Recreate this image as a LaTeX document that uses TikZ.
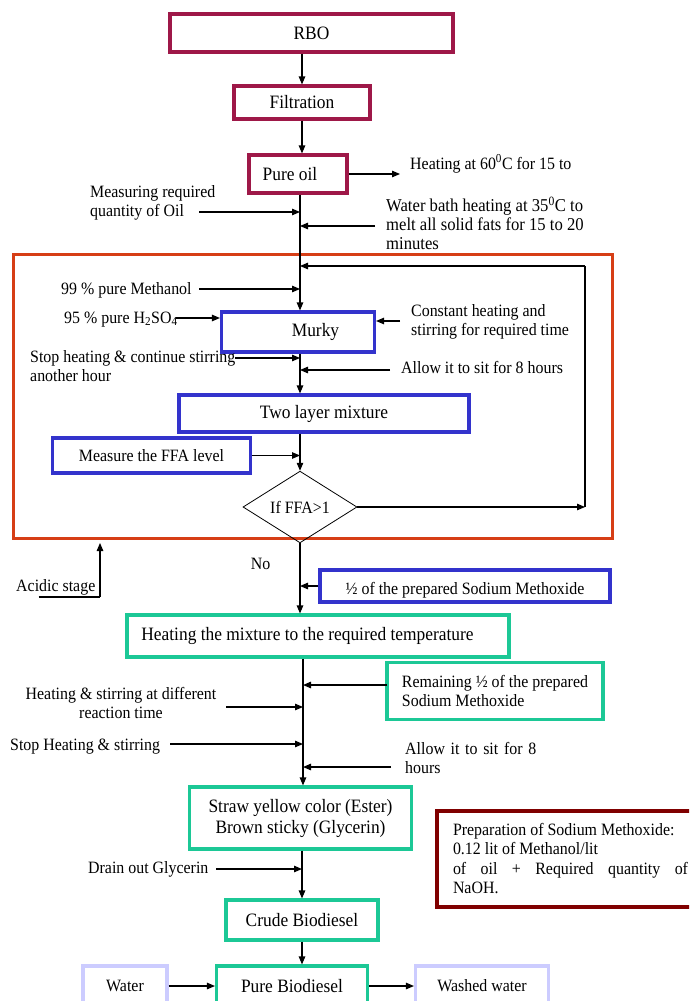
\documentclass[tikz,border=0pt]{standalone}
\usepackage{fontspec}
\setmainfont{Liberation Serif}[FakeStretch=0.92]
\usetikzlibrary{arrows.meta,shapes.geometric}
\definecolor{maroonA}{RGB}{158,24,72}
\definecolor{orangeR}{RGB}{214,62,22}
\definecolor{blueB}{RGB}{51,51,204}
\definecolor{greenT}{RGB}{28,200,150}
\definecolor{lavenderL}{RGB}{204,204,255}
\definecolor{darkredP}{RGB}{128,0,0}
\begin{document}
\begin{tikzpicture}[x=1pt,y=-1pt,
  font=\fontsize{17.3}{19.5}\selectfont,
  bigtext/.style={font=\fontsize{18.9}{21}\selectfont},
  box/.style={draw,line width=3.1pt,inner sep=0pt,align=center},
  mbox/.style={box,draw=maroonA,bigtext},
  bbox/.style={box,draw=blueB},
  gbox/.style={box,draw=greenT},
  lbox/.style={box,draw=lavenderL},
  txt/.style={inner sep=0pt,anchor=base west},
  mtxt/.style={inner sep=0pt,anchor=north west,align=left},
  arr/.style={line width=1.1pt,-{Triangle[length=8pt,width=6.5pt]}},
  ln/.style={line width=1.1pt},
]
\clip (0,0) rectangle (689,1001);
\fill[white] (0,0) rectangle (689,1001);
% spine positions
\coordinate (s1) at (300,0);
\coordinate (s3) at (303,0);

% top part
\node[mbox,minimum width=283pt,minimum height=38pt] (rbo) at (311.5,33) {RBO};
\node[mbox,minimum width=136pt,minimum height=33pt] (filt) at (302,102.5) {Filtration};
\node[mbox,minimum width=98pt,minimum height=38pt] (pure) at (298,174) {\hspace*{-16pt}Pure oil};
\draw[arr] (filt.north |- rbo.south) -- (filt.north);
\draw[arr] (filt.south) -- (filt.south |- pure.north);

\node[txt] (heat60) at (410,169) {Heating at 60\textsuperscript{0}C for 15 to};
\coordinate (h60) at (400,174);
\draw[arr] (pure.east) -- (h60);

\node[mtxt] (meas) at (90,185) {Measuring required\\quantity of Oil};
\coordinate (measA) at (199,212);
\draw[arr] (measA) -- (measA -| s1);

\node[mtxt,font=\fontsize{18.1}{19}\selectfont] (wb) at (386,197) {Water bath heating at 35\textsuperscript{0}C to\\melt all solid fats for 15 to 20\\minutes};
\coordinate (wbA) at (375,226);
\draw[arr] (wbA) -- (wbA -| s1);

% acidic stage frame
\node[draw=orangeR,line width=3pt,minimum width=599pt,minimum height=284pt,inner sep=0pt] (acid) at (312.5,396) {};

\node[bbox,bigtext,minimum width=153pt,minimum height=40pt] (murky) at (298,332) {\hspace*{35pt}Murky};
\draw[arr] (pure.south -| s1) -- (murky.north -| s1);

\node[txt] (meth) at (61,294) {99 \% pure Methanol};
\coordinate (methA) at (199,289);
\draw[arr] (methA) -- (methA -| s1);

\node[txt] (h2so4) at (64,323) {95 \% pure H\textsubscript{2}SO\textsubscript{4}};
\coordinate (h2A) at (176,318);
\draw[arr] (h2A) -- (h2A -| murky.west);

\node[mtxt] (const) at (411,304) {Constant heating and\\stirring for required time};
\coordinate (constA) at (400,321);
\draw[arr] (constA) -- (constA -| murky.east);

\node[mtxt] (stop1) at (30,350) {Stop heating \& continue stirring\\another hour};
\coordinate (stopA) at (235,358);
\draw[arr] (stopA) -- (stopA -| s1);

\node[txt] (allow1) at (401,373) {Allow it to sit for 8 hours};
\coordinate (allowA) at (390,370);
\draw[arr] (allowA) -- (allowA -| s1);

\node[bbox,bigtext,minimum width=290pt,minimum height=37pt] (two) at (324,413.5) {Two layer mixture};
\draw[arr] (murky.south -| s1) -- (two.north -| s1);

\node[draw,shape=diamond,line width=0.8pt,minimum width=114pt,minimum height=62pt,inner sep=0pt] (ffa) at (300,507) {If FFA>1};
\draw[arr] (two.south -| s1) -- (ffa.north);

\node[bbox,minimum width=198pt,minimum height=35pt] (meas2) at (151.5,455.5) {Measure the FFA level};
\draw[arr] (meas2.east) -- (meas2.east -| s1);

% feedback loop
\coordinate (fbA) at (585,266);
\coordinate (fbB) at (585,507);
\draw[arr] (ffa.east) -- (fbB);
\draw[ln] (fbB) -- (fbA);
\draw[arr] (fbA) -- (fbA -| s1);

% acidic stage label
\node[txt] (acidtxt) at (16,591) {Acidic stage};
\coordinate (acA) at (38.5,597);
\coordinate (acB) at (100,597);
\coordinate (acC) at (100,543);
\draw[ln] (acA) -- (acB);
\draw[arr] (acB) -- (acC);

% basic stage
\node[txt,anchor=base] (no) at (260.5,569) {No};
\node[bbox,minimum width=290pt,minimum height=32pt,text height=20pt,text depth=4pt] (half) at (465,586) {½ of the prepared Sodium Methoxide};
\node[gbox,bigtext,minimum width=382pt,minimum height=42pt] (heat) at (318,636) {\hspace*{-21pt}Heating the mixture to the required temperature};
\draw[arr] (ffa.south) -- (ffa.south |- heat.north);
\draw[arr] (half.west) -- (half.west -| ffa.south);

\node[gbox,bigtext,minimum width=222pt,minimum height=62pt] (straw) at (300.5,818) {Straw yellow color (Ester)\\Brown sticky (Glycerin)};
\draw[arr] (heat.south -| s3) -- (straw.north -| s3);

\node[gbox,minimum width=216pt,minimum height=57pt,align=left] (rem) at (495,691) {Remaining ½ of the prepared\\Sodium Methoxide};
\coordinate (remA) at (387,685);
\draw[arr] (remA) -- (remA -| s3);

\node[inner sep=0pt,anchor=north,align=center] (hs) at (121,687) {Heating \& stirring at different\\reaction time};
\coordinate (hsA) at (226,707);
\draw[arr] (hsA) -- (hsA -| s3);

\node[txt] (stop2) at (10,750) {Stop Heating \& stirring};
\coordinate (stop2A) at (170,744);
\draw[arr] (stop2A) -- (stop2A -| s3);

\node[mtxt] (allow2) at (405,742) {\makebox[131pt][s]{Allow it to sit for 8}\\hours};
\coordinate (allow2A) at (391,767);
\draw[arr] (allow2A) -- (allow2A -| s3);

\node[gbox,bigtext,minimum width=152pt,minimum height=40pt] (crude) at (302,920) {Crude Biodiesel};
\draw[arr] (crude.north |- straw.south) -- (crude.north);

\node[txt] (drain) at (88,873) {Drain out Glycerin};
\coordinate (drainA) at (216,869);
\draw[arr] (drainA) -- (drainA -| crude.north);

\node[gbox,bigtext,minimum width=151pt,minimum height=40pt] (pbio) at (292,986) {Pure Biodiesel};
\draw[arr] (crude.south) -- (crude.south |- pbio.north);

\node[lbox,minimum width=84pt,minimum height=40pt] (water) at (125,986) {Water};
\node[lbox,minimum width=133pt,minimum height=40pt] (washed) at (482,986) {Washed water};
\draw[arr] (water.east) -- (pbio.west);
\draw[arr] (pbio.east) -- (washed.west);

\node[draw=darkredP,line width=4pt,minimum width=267pt,minimum height=96pt,inner xsep=16pt,inner ysep=0pt,align=left] (prep) at (570.5,858.5) {Preparation of Sodium Methoxide:\\0.12 lit of Methanol/lit\\\makebox[235pt][s]{of oil + Required quantity of}\\NaOH.};
\end{tikzpicture}
\end{document}
